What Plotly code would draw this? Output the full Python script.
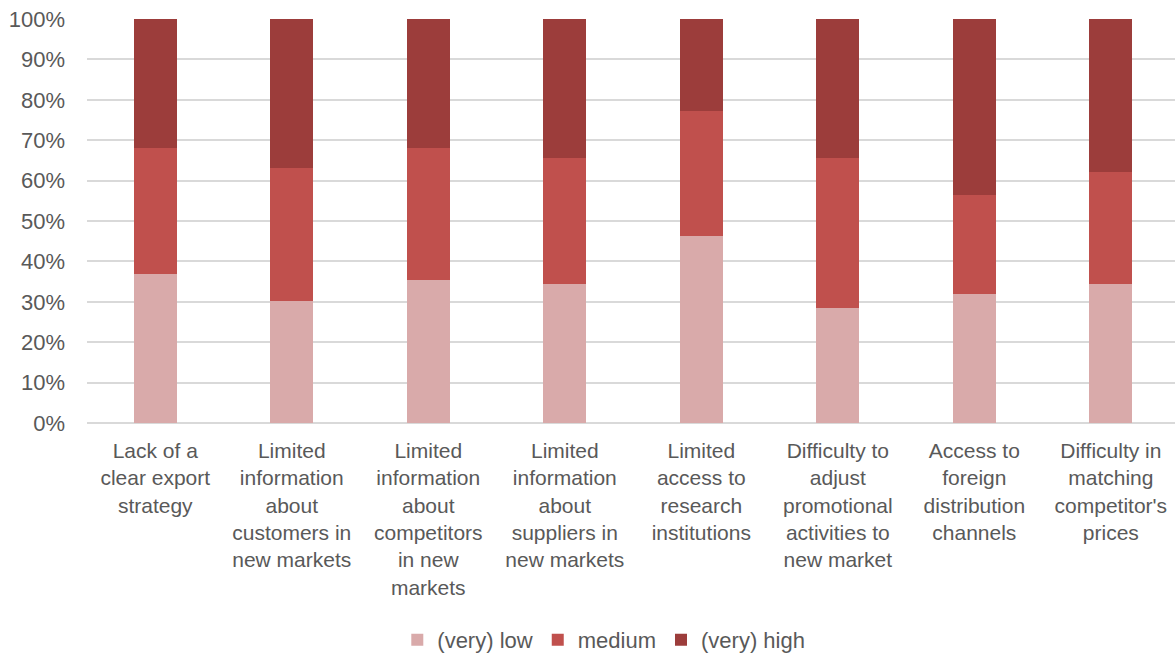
import plotly.graph_objects as go

categories = [
    "Lack of a<br>clear export<br>strategy",
    "Limited<br>information<br>about<br>customers in<br>new markets",
    "Limited<br>information<br>about<br>competitors<br>in new<br>markets",
    "Limited<br>information<br>about<br>suppliers in<br>new markets",
    "Limited<br>access to<br>research<br>institutions",
    "Difficulty to<br>adjust<br>promotional<br>activities to<br>new market",
    "Access to<br>foreign<br>distribution<br>channels",
    "Difficulty in<br>matching<br>competitor's<br>prices",
]

low = [36.9, 30.2, 35.3, 34.5, 46.3, 28.5, 32.0, 34.5]
medium = [31.2, 32.9, 32.8, 31.0, 31.0, 37.0, 24.5, 27.7]
high = [31.9, 36.9, 31.9, 34.5, 22.7, 34.5, 43.5, 37.8]

series = [
    ("(very) low", low, "#D9AAAA"),
    ("medium", medium, "#C0504D"),
    ("(very) high", high, "#9C3D3B"),
]

x_idx = list(range(len(categories)))

fig = go.Figure()
for name, vals, color in series:
    fig.add_trace(go.Bar(
        x=x_idx, y=vals, name=name,
        marker=dict(color=color, line=dict(width=0)),
    ))

font_family = "Liberation Sans, Arial, sans-serif"
grey = "#595959"
fs = 22

fig.update_layout(
    barmode="stack",
    bargap=0.685,
    width=1175, height=655,
    margin=dict(l=87, r=0, t=19, b=232),
    plot_bgcolor="white", paper_bgcolor="white",
    font=dict(family=font_family, size=fs, color=grey),
    showlegend=True,
    legend=dict(
        orientation="h", x=0.475, xanchor="center",
        yref="container", y=0.023, yanchor="middle",
        font=dict(size=fs, color=grey), traceorder="normal",
        itemwidth=30,
    ),
    xaxis=dict(
        tickmode="array", tickvals=x_idx, ticktext=categories,
        range=[-0.5, 7.47], showgrid=False, zeroline=False,
        showline=False, ticks="", tickangle=0, ticklabelstandoff=13,
        tickfont=dict(size=21, color=grey), automargin=False,
    ),
    yaxis=dict(
        range=[0, 100], tickmode="array",
        tickvals=list(range(0, 101, 10)),
        ticktext=[f"{v}%" for v in range(0, 101, 10)],
        showgrid=True, gridcolor="#D9D9D9", gridwidth=1.5,
        zeroline=True, zerolinecolor="#D9D9D9", zerolinewidth=1.5,
        showline=False, ticks="", ticklabelstandoff=21,
        tickfont=dict(size=fs, color=grey), automargin=False,
    ),
)

fig.write_html("out.html")
